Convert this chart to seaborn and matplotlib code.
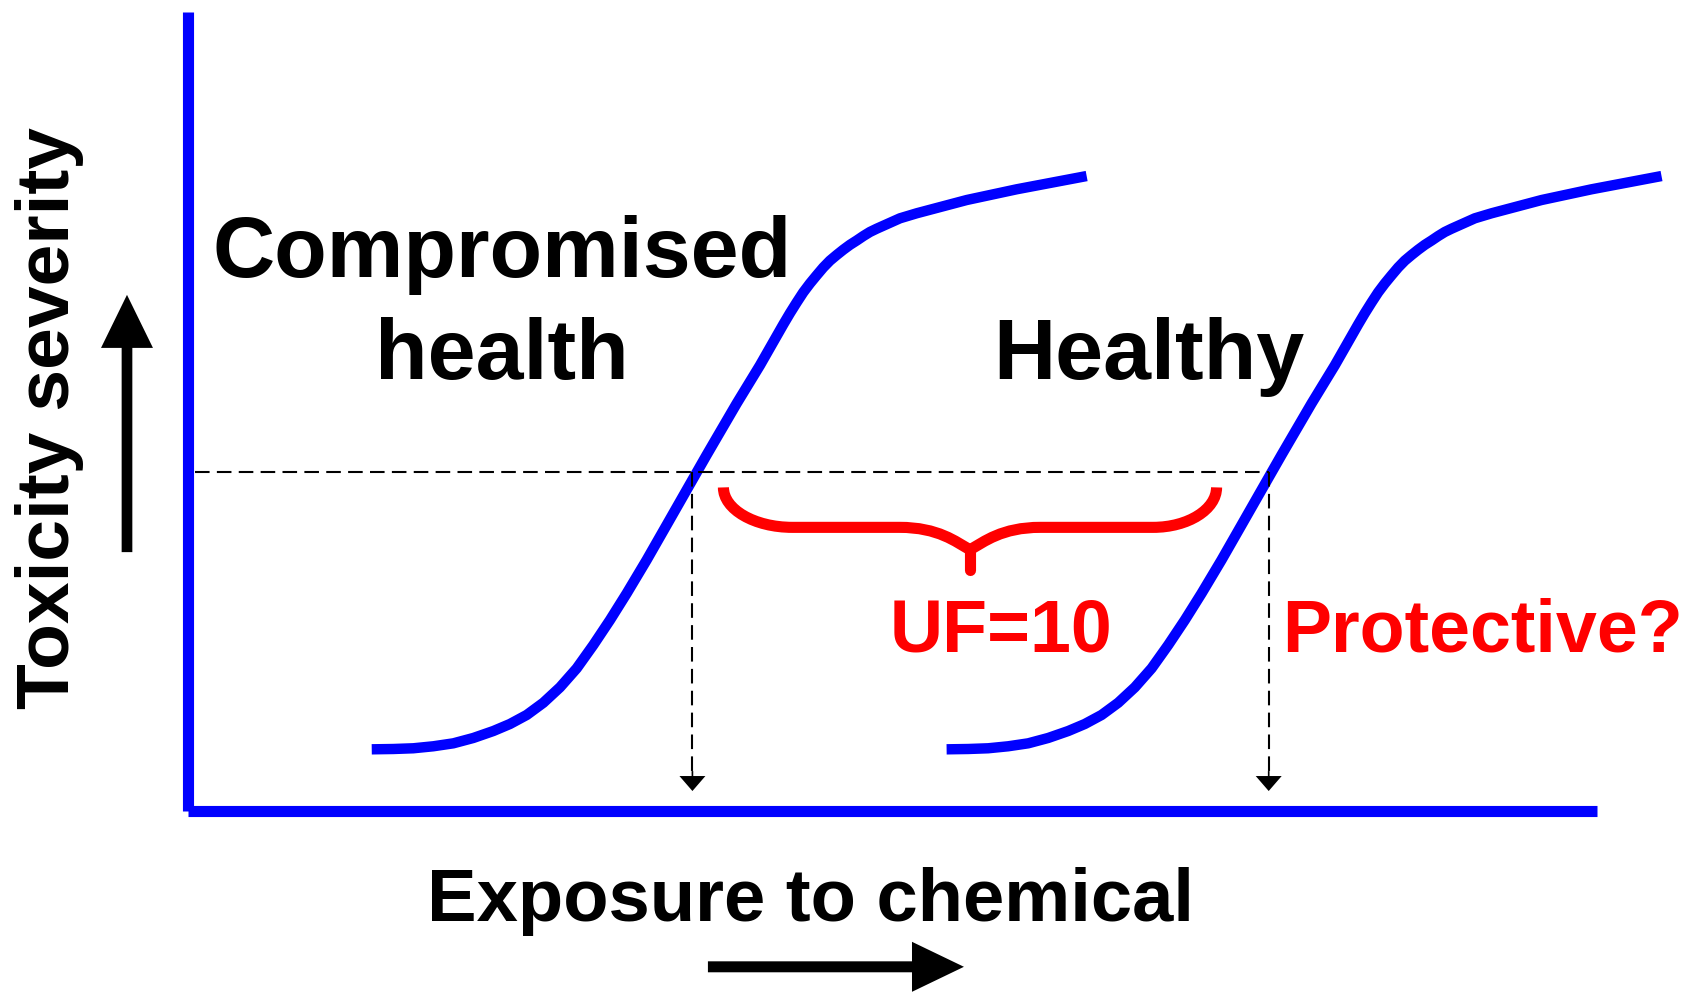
import numpy as np
import pandas as pd
import matplotlib
matplotlib.use("Agg")
import matplotlib.pyplot as plt
from matplotlib.path import Path
from matplotlib.patches import PathPatch
import seaborn as sns

sns.set_style("white")
plt.rcParams['font.family'] = ['Liberation Sans', 'DejaVu Sans']
plt.rcParams['font.weight'] = 'bold'
plt.rcParams['text.color'] = 'black'
plt.rcParams['axes.labelcolor'] = 'black'

# dose-response curves (severity 0-100, exposure 0-100)
severity = [7.72, 7.76, 7.85, 8.10, 8.47, 9.14, 10.01, 10.89, 12.02, 13.55, 15.48, 17.86, 20.78, 23.90,
            27.25, 31.41, 35.79, 40.18, 44.56, 46.71, 51.00, 55.80, 60.90, 62.30, 63.65, 64.92, 66.02,
            67.05, 68.03, 68.88, 69.59, 70.25, 70.86, 71.40, 71.96, 72.47, 72.88, 73.25, 74.18, 74.81,
            76.47, 77.81, 79.47]
exposure_compromised = [13.04, 14.57, 15.99, 17.41, 18.83, 20.25, 21.67, 22.85, 24.04, 25.22, 26.40, 27.59,
                        28.77, 29.95, 31.14, 32.55, 33.97, 35.39, 36.81, 37.52, 38.94, 40.60, 42.25, 42.72,
                        43.20, 43.67, 44.14, 44.62, 45.09, 45.56, 46.04, 46.51, 46.98, 47.46, 47.93, 48.40,
                        48.88, 49.35, 50.53, 51.72, 55.27, 58.81, 63.78]
exposure_healthy = [53.84, 55.37, 56.79, 58.21, 59.63, 61.05, 62.47, 63.65, 64.84, 66.02, 67.20, 68.39,
                    69.57, 70.75, 71.94, 73.35, 74.77, 76.19, 77.61, 78.32, 79.74, 81.40, 83.05, 83.52,
                    84.00, 84.47, 84.94, 85.42, 85.89, 86.36, 86.84, 87.31, 87.78, 88.26, 88.73, 89.20,
                    89.68, 90.15, 91.33, 92.52, 96.07, 99.61, 104.58]

# effect level and the two doses that give it
effect_level = 42.4
dose_compromised = 35.8
dose_healthy = 76.7

# brace spanning the factor between the two doses
brace_x = [38.0, 42.9, 50.5, 55.5, 60.5, 68.5, 73.0]
brace_y = [40.5, 35.5, 32.7, 30.2]

BLUE = '#0000ff'
RED = '#ff0000'

df = pd.concat([
    pd.DataFrame({'exposure': exposure_compromised, 'severity': severity, 'group': 'Compromised health'}),
    pd.DataFrame({'exposure': exposure_healthy, 'severity': severity, 'group': 'Healthy'}),
])

fig = plt.figure(figsize=(17.01, 9.92), dpi=100)
ax = fig.add_axes([188 / 1701, 181 / 992, 1409 / 1701, 799 / 992])

sns.lineplot(data=df, x='exposure', y='severity', units='group', estimator=None, sort=False,
             color=BLUE, lw=7.5, solid_capstyle='butt', solid_joinstyle='round', clip_on=False, ax=ax)

ax.set_xlim(0, 100)
ax.set_ylim(0, 100)
ax.set_xticks([])
ax.set_yticks([])
for s in ['top', 'right']:
    ax.spines[s].set_visible(False)
for s in ['left', 'bottom']:
    ax.spines[s].set_color(BLUE)
    ax.spines[s].set_linewidth(8)
    ax.spines[s].set_capstyle('butt')

# dashed guide lines
dash = (0, (7, 3.5))
ax.plot([0.5, dose_healthy], [effect_level, effect_level], color='black', lw=1.5, ls=dash)
for d in [dose_compromised, dose_healthy]:
    ax.plot([d, d], [effect_level, 4.0], color='black', lw=1.5, ls=dash)
    ax.annotate('', xy=(d, 2.5), xytext=(d, 5.0),
                arrowprops=dict(width=1.2, headwidth=18.7, headlength=10.8,
                                facecolor='black', edgecolor='none', shrink=0))

# curly brace
def brace_half(x_end, x_flat, x_curve, x_mid, y_top, y_flat, y_cusp):
    verts = [(x_end, y_top),
             (x_end, y_top - 0.55 * (y_top - y_flat)), (x_end + 0.45 * (x_flat - x_end), y_flat), (x_flat, y_flat),
             (x_curve, y_flat),
             (x_curve + 0.55 * (x_mid - x_curve), y_flat), (x_mid - 0.2 * (x_mid - x_curve), y_cusp + 0.35 * (y_flat - y_cusp)),
             (x_mid, y_cusp)]
    codes = [Path.MOVETO, Path.CURVE4, Path.CURVE4, Path.CURVE4, Path.LINETO,
             Path.CURVE4, Path.CURVE4, Path.CURVE4]
    return Path(verts, codes)

for half in [brace_half(brace_x[0], brace_x[1], brace_x[2], brace_x[3], brace_y[0], brace_y[1], brace_y[2]),
             brace_half(brace_x[6], brace_x[5], brace_x[4], brace_x[3], brace_y[0], brace_y[1], brace_y[2])]:
    ax.add_patch(PathPatch(half, facecolor='none', edgecolor=RED, lw=8, capstyle='butt', joinstyle='round'))
ax.plot([brace_x[3], brace_x[3]], [brace_y[2], brace_y[3]], color=RED, lw=8, solid_capstyle='round')

# labels inside the plot
ax.text(22.3, 66.8, 'Compromised', ha='center', va='baseline', fontsize=62, fontweight='bold')
ax.text(22.3, 54.1, 'health', ha='center', va='baseline', fontsize=62, fontweight='bold')
ax.text(68.2, 54.1, 'Healthy', ha='center', va='baseline', fontsize=62, fontweight='bold')
ax.text(57.7, 20.0, 'UF=10', ha='center', va='baseline', fontsize=53, fontweight='bold', color=RED)
ax.text(91.9, 20.0, 'Protective?', ha='center', va='baseline', fontsize=53, fontweight='bold',
        color=RED, clip_on=False)

# axis titles with direction arrows
ax.set_xlabel('Exposure to chemical', fontsize=53.5, fontweight='bold')
ax.xaxis.set_label_coords(0.442, -0.1377)
ax.xaxis.label.set_va('baseline')
ax.set_ylabel('Toxicity severity', fontsize=54, fontweight='bold')
ax.yaxis.set_label_coords(-0.098, 0.492)
ax.yaxis.label.set_va('center')

ax.annotate('', xy=(-4.33, 64.6), xytext=(-4.33, 32.4), annotation_clip=False,
            arrowprops=dict(width=7.7, headwidth=37.4, headlength=38.2,
                            facecolor='black', edgecolor='none', shrink=0))
ax.annotate('', xy=(55.07, -19.5), xytext=(36.9, -19.5), annotation_clip=False,
            arrowprops=dict(width=7.9, headwidth=36, headlength=37.4,
                            facecolor='black', edgecolor='none', shrink=0))

fig.savefig('out.png', dpi=100)
